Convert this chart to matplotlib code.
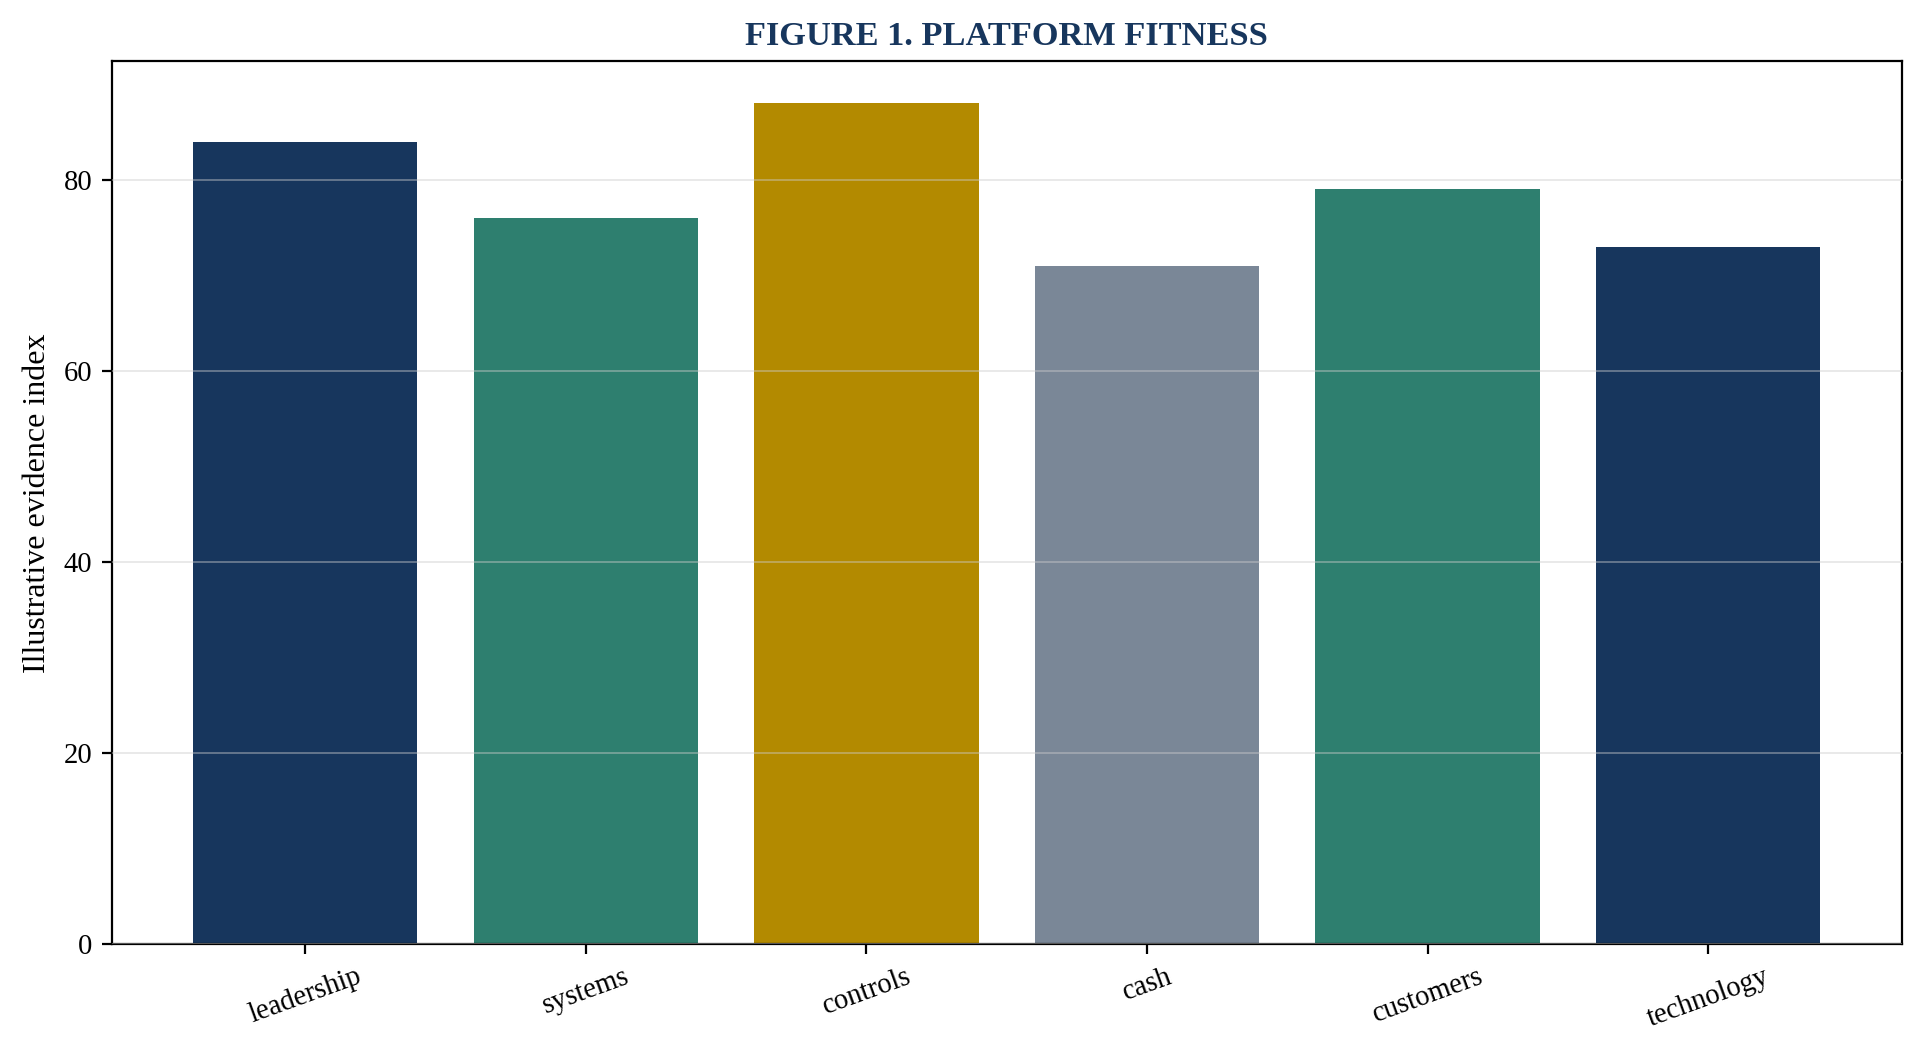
import matplotlib
matplotlib.use("Agg")
import matplotlib.pyplot as plt

plt.rcParams['font.family'] = ['Liberation Serif', 'DejaVu Serif']

categories = ['leadership', 'systems', 'controls', 'cash', 'customers', 'technology']
values = [84, 76, 88, 71, 79, 73]
colors = ['#17365d', '#2e7f6f', '#b38a00', '#7a8797', '#2e7f6f', '#17365d']

fig, ax = plt.subplots(figsize=(9.62, 5.29), dpi=200)
ax.bar(categories, values, color=colors, width=0.8, zorder=2)
ax.set_ylim(0, max(values) * 1.05)
ax.yaxis.grid(True, color='#cccccc', linewidth=0.6, alpha=0.5, zorder=3)
ax.set_axisbelow(False)
ax.set_ylabel('Illustrative evidence index', fontsize=11.5)
ax.set_title('FIGURE 1. PLATFORM FITNESS', fontsize=12.4, fontweight='bold', color='#17365d')
ax.tick_params(axis='both', labelsize=10.3)
plt.setp(ax.get_xticklabels(), rotation=20)
fig.subplots_adjust(left=0.058, right=0.9885, top=0.942, bottom=0.1075)
fig.savefig('out.png', dpi=200)
